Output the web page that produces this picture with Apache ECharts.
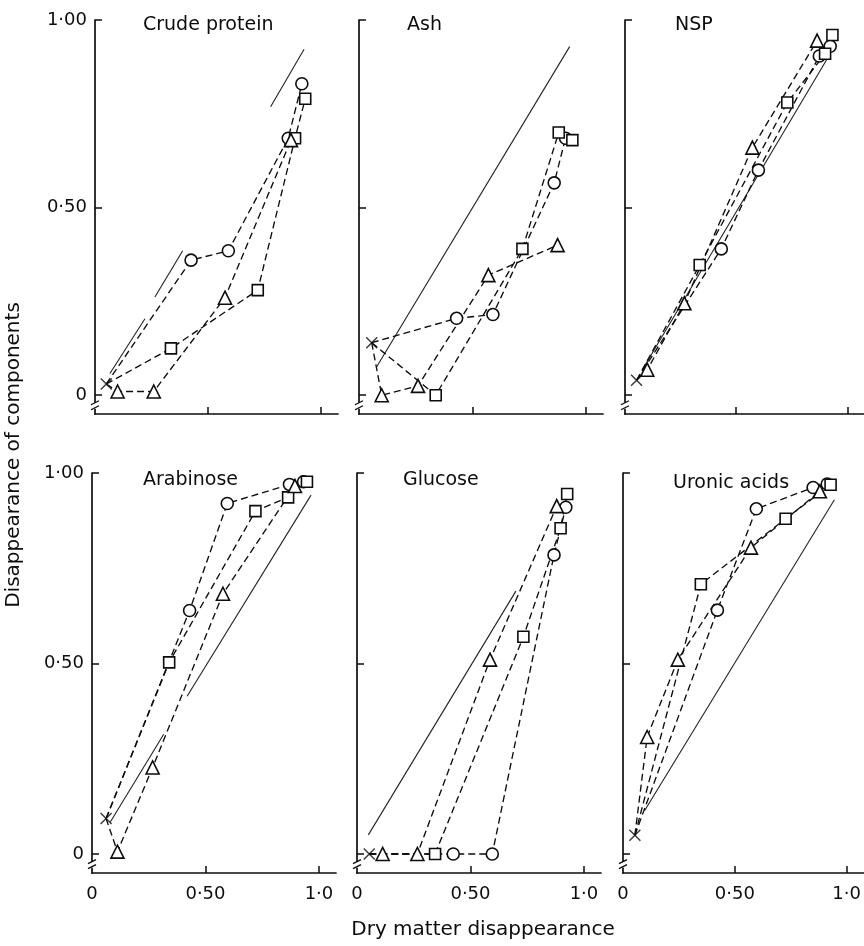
<!DOCTYPE html>
<html><head><meta charset="utf-8">
<script src="https://cdn.jsdelivr.net/npm/echarts@6/dist/echarts.min.js"></script>
<style>html,body{margin:0;padding:0;background:#fff}#c{width:864px;height:946px}</style>
</head><body><div id="c"></div><script>
// ---------- data ----------
const panelTitles = ['Crude protein', 'Ash', 'NSP', 'Arabinose', 'Glucose', 'Uronic acids'];
const xTickValues = [0, 0.5, 1];
const xTickLabels = ['0', '0·50', '1·0'];
const yTickValues = [0, 0.5, 1];
const yTickLabels = ['0', '0·50', '1·00'];

// starting point (x) shared by the three dashed lines of each panel
const crossPoints = [[0.05, 0.03], [0.056, 0.14], [0.052, 0.04], [0.062, 0.093], [0.054, 0.0], [0.053, 0.049]];

// Crude protein
const cpCircle = [[0.425, 0.36], [0.59, 0.385], [0.855, 0.685], [0.915, 0.83]];
const cpSquare = [[0.336, 0.125], [0.72, 0.28], [0.885, 0.685], [0.93, 0.79]];
const cpTriangle = [[0.10, 0.01], [0.26, 0.01], [0.575, 0.26], [0.867, 0.68]];
const cpEquality = [[[0.066, 0.058], [0.221, 0.204]], [[0.265, 0.262], [0.388, 0.385]], [[0.777, 0.769], [0.925, 0.922]]];
// Ash
const ashCircle = [[0.43, 0.205], [0.59, 0.215], [0.86, 0.566], [0.91, 0.685]];
const ashSquare = [[0.338, 0.0], [0.72, 0.39], [0.88, 0.70], [0.94, 0.68]];
const ashTriangle = [[0.10, 0.0], [0.26, 0.025], [0.57, 0.32], [0.875, 0.40]];
const ashEquality = [[[0.078, 0.076], [0.928, 0.929]]];
// NSP
const nspCircle = [[0.433, 0.39], [0.60, 0.60], [0.874, 0.904], [0.923, 0.93]];
const nspSquare = [[0.336, 0.347], [0.73, 0.78], [0.90, 0.91], [0.933, 0.96]];
const nspTriangle = [[0.10, 0.068], [0.267, 0.245], [0.573, 0.66], [0.864, 0.945]];
const nspEquality = [[[0.08, 0.07], [0.911, 0.898]]];
// Arabinose
const araCircle = [[0.43, 0.639], [0.596, 0.92], [0.87, 0.97], [0.932, 0.977]];
const araSquare = [[0.34, 0.503], [0.72, 0.90], [0.864, 0.936], [0.947, 0.977]];
const araTriangle = [[0.112, 0.006], [0.267, 0.227], [0.577, 0.683], [0.894, 0.966]];
const araEquality = [[[0.08, 0.083], [0.316, 0.314]], [[0.419, 0.414], [0.965, 0.942]]];
// Glucose
const gluCircle = [[0.424, 0.0], [0.596, 0.0], [0.868, 0.785], [0.92, 0.91]];
const gluSquare = [[0.344, 0.0], [0.733, 0.57], [0.897, 0.855], [0.926, 0.945]];
const gluTriangle = [[0.113, 0.0], [0.266, 0.0], [0.586, 0.51], [0.88, 0.913]];
const gluEquality = [[[0.05, 0.05], [0.70, 0.69]]];
// Uronic acids
const uroCircle = [[0.422, 0.64], [0.596, 0.906], [0.85, 0.962], [0.913, 0.971]];
const uroSquare = [[0.348, 0.708], [0.727, 0.88], [0.928, 0.969]];
const uroTriangle = [[0.108, 0.307], [0.245, 0.51], [0.572, 0.804], [0.88, 0.952]];
const uroEquality = [[[0.097, 0.114], [0.945, 0.93]]];

const circleSets = [cpCircle, ashCircle, nspCircle, araCircle, gluCircle, uroCircle];
const squareSets = [cpSquare, ashSquare, nspSquare, araSquare, gluSquare, uroSquare];
const triangleSets = [cpTriangle, ashTriangle, nspTriangle, araTriangle, gluTriangle, uroTriangle];
const equalitySets = [cpEquality, ashEquality, nspEquality, araEquality, gluEquality, uroEquality];

// ---------- layout ----------
const gridBoxes = [
  {left: 95, top: 20, width: 243, height: 394},
  {left: 359, top: 20, width: 244, height: 394},
  {left: 625, top: 20, width: 241, height: 394},
  {left: 92, top: 473, width: 244, height: 400},
  {left: 357, top: 473, width: 244, height: 400},
  {left: 623, top: 473, width: 242, height: 400}
];
const titlePos = [[143, 16], [407, 16], [675, 16], [143, 471], [403, 471], [673, 474]];

const INK = '#0d0d0d';
const FONT = 'DejaVu Sans';

const chart = echarts.init(document.getElementById('c'), null, {renderer: 'canvas'});

const grids = [], xAxes = [], yAxes = [], series = [], titles = [];
gridBoxes.forEach((g, i) => {
  grids.push(Object.assign({containLabel: false}, g));
  const bottomRow = i >= 3, leftCol = i % 3 === 0;
  xAxes.push({
    type: 'value', gridIndex: i, min: 0, max: 1.075,
    axisLine: {show: true, onZero: false, lineStyle: {color: INK, width: 1.7}},
    axisTick: {show: true, inside: true, length: 7, customValues: [0.5, 1], lineStyle: {color: INK, width: 1.5}},
    axisLabel: {show: bottomRow, customValues: xTickValues, margin: 12, color: INK, fontSize: 18, fontFamily: FONT,
      formatter: v => xTickLabels[xTickValues.indexOf(v)]},
    splitLine: {show: false}
  });
  yAxes.push({
    type: 'value', gridIndex: i, min: -0.05, max: 1.0,
    axisLine: {show: true, onZero: false, lineStyle: {color: INK, width: 1.7}},
    axisTick: {show: true, inside: true, length: 7, customValues: yTickValues, lineStyle: {color: INK, width: 1.5}},
    axisLabel: {show: leftCol, customValues: yTickValues, margin: 8, color: INK, fontSize: 18, fontFamily: FONT,
      formatter: v => yTickLabels[yTickValues.indexOf(v)]},
    splitLine: {show: false}
  });
  titles.push({text: panelTitles[i], left: titlePos[i][0], top: titlePos[i][1], padding: 0,
    textStyle: {fontFamily: FONT, fontSize: 19, fontWeight: 'normal', color: INK}});

  // line of equality (solid)
  equalitySets[i].forEach(seg => {
    series.push({type: 'line', xAxisIndex: i, yAxisIndex: i, data: seg, symbol: 'none', silent: true,
      lineStyle: {color: '#222', width: 1.1, type: 'solid'}, z: 1, animation: false});
  });
  const cross = crossPoints[i];
  const markerDefs = [
    [circleSets[i], 'circle', 12],
    [squareSets[i], 'rect', 11],
    [triangleSets[i], 'triangle', 13]
  ];
  markerDefs.forEach(([pts, sym, size]) => {
    series.push({type: 'line', xAxisIndex: i, yAxisIndex: i, data: [cross].concat(pts), symbol: 'none', silent: true,
      lineStyle: {color: INK, width: 1.35, type: [7, 4]}, z: 2, animation: false});
    series.push({type: 'scatter', xAxisIndex: i, yAxisIndex: i, data: pts, symbol: sym, symbolSize: size, silent: true,
      itemStyle: {color: '#fff', borderColor: INK, borderWidth: 1.6, opacity: 1}, z: 5, animation: false});
  });
  series.push({type: 'scatter', xAxisIndex: i, yAxisIndex: i, data: [cross], symbol: 'path://M0,0L10,10M10,0L0,10',
    symbolSize: 11, silent: true, itemStyle: {color: 'transparent', borderColor: INK, borderWidth: 1.5}, z: 5, animation: false});
});

chart.setOption({
  backgroundColor: '#fff',
  animation: false,
  title: titles,
  grid: grids,
  xAxis: xAxes,
  yAxis: yAxes,
  series: series
});

// axis-break marks on each y axis (between 0 and the axis bottom) and axis names
const extras = [
  {type: 'text', rotation: Math.PI / 2, x: 14, y: 455,
    style: {text: 'Disappearance of components', font: '20px ' + FONT, fill: INK, textAlign: 'center', textVerticalAlign: 'middle'}},
  {type: 'text', x: 483, y: 930,
    style: {text: 'Dry matter disappearance', font: '20px ' + FONT, fill: INK, textAlign: 'center', textVerticalAlign: 'middle'}}
];
gridBoxes.forEach((g, i) => {
  const p = chart.convertToPixel({gridIndex: i}, [0, -0.028]);
  const x = p[0], y = p[1];
  extras.push({type: 'rect', shape: {x: x - 3, y: y - 3, width: 6, height: 6}, style: {fill: '#fff'}, z: 100});
  extras.push({type: 'line', shape: {x1: x - 4, y1: y - 1, x2: x + 4, y2: y - 5}, style: {stroke: INK, lineWidth: 1.3}, z: 101});
  extras.push({type: 'line', shape: {x1: x - 4, y1: y + 4, x2: x + 4, y2: y}, style: {stroke: INK, lineWidth: 1.3}, z: 101});
});
chart.setOption({graphic: extras});
</script></body></html>
